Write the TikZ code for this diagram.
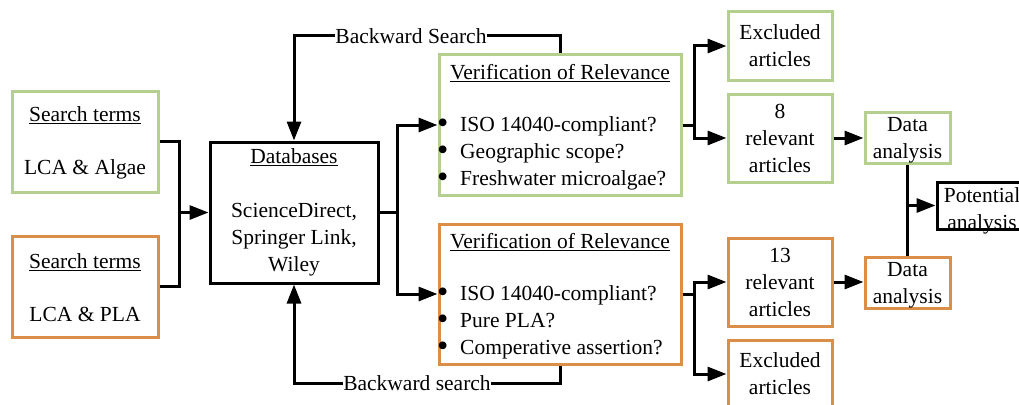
\documentclass[tikz,border=0pt]{standalone}
\usepackage{fontspec}
\setmainfont{Liberation Serif}
\usetikzlibrary{arrows.meta}
\definecolor{leaf}{RGB}{180,207,142}
\definecolor{clay}{RGB}{219,142,72}
% large round bullet for the check lists
\newcommand\bulletmark{\makebox[23pt][l]{\smash{\raisebox{-1.5pt}{\scalebox{1.5}{\textbullet}}}}}
\begin{document}
\begin{tikzpicture}[x=1pt,y=-1pt,
  every node/.style={font=\fontsize{21.5}{27}\selectfont},
  box/.style={draw, line width=3pt, inner sep=0pt, align=center},
  gbox/.style={box, draw=leaf},
  obox/.style={box, draw=clay},
  kbox/.style={box, draw=black},
  lbl/.style={inner sep=0pt, align=center},
  conn/.style={line width=3pt, draw=black},
  arr/.style={conn, -{Triangle[length=19pt,width=14pt]}}]
\useasboundingbox (0,0) rectangle (1019,404);
\clip (0,0) rectangle (1019,404);

% search terms
\node[gbox, minimum width=146, minimum height=101] (stg) at (85,141.5) {};
\node[lbl] (stgt) at (85,143)
  {\underline{Search terms}\\[26pt]LCA \& Algae};
\node[obox, minimum width=146, minimum height=101] (sto) at (85,286.5) {};
\node[lbl] (stot) at (85,288)
  {\underline{Search terms}\\[26pt]LCA \& PLA};

% databases
\node[kbox, minimum width=168, minimum height=141] (db) at (294,212.5)
  {\underline{Databases}\\[27pt]ScienceDirect,\\Springer Link,\\Wiley};

% verification boxes
\node[gbox, minimum width=242, minimum height=140] (vg) at (560,125) {};
\node[lbl] (vgt) at (560,73) {\underline{Verification of Relevance}};
\node[lbl, anchor=west, align=left] (vgl) at (437,153.5)
  {\bulletmark ISO 14040-compliant?\\\bulletmark Geographic scope?\\\bulletmark Freshwater microalgae?};

\node[obox, minimum width=242, minimum height=140] (vo) at (560,294) {};
\node[lbl] (vot) at (560,242) {\underline{Verification of Relevance}};
\node[lbl, anchor=west, align=left] (vol) at (437,322.5)
  {\bulletmark ISO 14040-compliant?\\\bulletmark Pure PLA?\\\bulletmark Comperative assertion?};

% backward search labels
\node[lbl] (bst) at (411,36) {Backward Search};
\node[lbl] (bsb) at (417,383) {Backward search};

% article boxes
\node[gbox, minimum width=104, minimum height=68] (exg) at (780,46) {Excluded\\articles};
\node[gbox, minimum width=104, minimum height=88] (rel8) at (780,138) {8\\relevant\\articles};
\node[obox, minimum width=104, minimum height=88] (rel13) at (780,282) {13\\relevant\\articles};
\node[obox, minimum width=104, minimum height=68] (exo) at (780,374) {Excluded\\articles};

% data analysis
\node[gbox, minimum width=85, minimum height=51] (dag) at (907.5,137.5) {};
\node[lbl] (dagt) at (907.5,140.5) {Data\\analysis};
\node[obox, minimum width=85, minimum height=51] (dao) at (907.5,282.5) {};
\node[lbl] (daot) at (907.5,285) {Data\\analysis};

% potential analysis
\node[kbox, minimum width=90, minimum height=47] (pot) at (982,205.5) {};
\node[lbl] (pott) at (982,211) {Potential\\analysis};

% connectors
\draw[conn] (stg.east) -- ++(20,0) coordinate (jin) |- (sto.east);
\draw[arr] (jin |- db.west) -- (db.west);

\draw[conn] (db.east) -- ++(18,0) coordinate (jdb);
\draw[arr] (jdb) |- (vg.west);
\draw[arr] (jdb) |- (vo.west);

\draw[arr] (bst.west) -| (db.north);
\draw[conn] (bst.east) -| (vg.north);
\draw[arr] (bsb.west) -| (db.south);
\draw[conn] (bsb.east) -| (vo.south);

\draw[conn] (vg.east) -- ++(12,0) coordinate (jvg);
\draw[arr] (jvg) |- (exg.west);
\draw[arr] (jvg) |- (rel8.west);
\draw[conn] (vo.east) -- ++(12,0) coordinate (jvo);
\draw[arr] (jvo) |- (rel13.west);
\draw[arr] (jvo) |- (exo.west);

\draw[arr] (rel8.east) -- (rel8.east -| dag.west);
\draw[arr] (rel13.east) -- (rel13.east -| dao.west);

\draw[conn] (dag.south) -- (dao.north);
\draw[arr] (dag.south |- pot.west) -- (pot.west);
\end{tikzpicture}
\end{document}
